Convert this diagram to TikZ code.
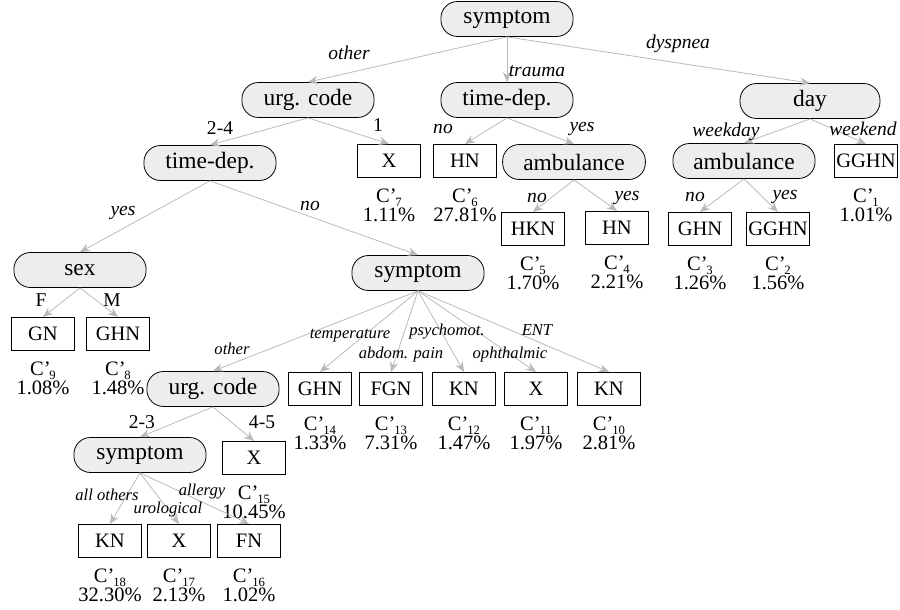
\documentclass[tikz,border=0pt]{standalone}
\usepackage{fontspec}
\setmainfont{Liberation Serif}
\usetikzlibrary{positioning,arrows.meta}
\definecolor{dtEdge}{RGB}{185,185,185}
\definecolor{dtFill}{RGB}{237,237,237}
\newcommand{\cname}[1]{C'\kern-0.6pt\smash{\raisebox{-1.7pt}{\fontsize{6.5}{7}\selectfont #1}}}

\begin{document}
\begin{tikzpicture}[x=0.018cm, y=-0.018cm,
  test/.style={draw, fill=dtFill, rounded corners=8.5pt, minimum width=2.38cm, minimum height=0.63cm, inner sep=2pt, font=\fontsize{12}{14}\selectfont},
  leaf/.style={draw, minimum width=1.13cm, minimum height=0.6cm, inner xsep=1pt, font=\fontsize{10.5}{12}\selectfont},
  info/.style={align=center, inner sep=0pt, font=\fontsize{10.5}{9.6}\selectfont},
  edge/.style={draw=dtEdge, -{Stealth[length=1.8mm,width=1.5mm]}},
  lbl/.style={inner sep=1pt, font=\fontsize{10}{12}\selectfont\itshape},
  slbl/.style={inner sep=1pt, font=\fontsize{8.5}{10}\selectfont\itshape},
  val/.style={inner sep=1pt, font=\fontsize{10}{12}\selectfont}]
  \useasboundingbox (0,0) rectangle (900,610);

  % Root
  \node[test] (root) at (507,19) {symptom};

  % Level 1
  \node[test] (uc1) at (308,100) {urg. code};
  \node[test] (td1) at (507,100) {time-dep.};
  \node[test, minimum width=2.52cm] (day) at (810,101) {day};

  % Level 2
  \node[test] (td2) at (210,163) {time-dep.};
  \node[leaf] (x7) at (389,161) {X};
  \node[leaf] (hn6) at (465,161) {HN};
  \node[test, minimum width=2.57cm] (amb1) at (574,162) {ambulance};
  \node[test, minimum width=2.56cm] (amb2) at (744,161) {ambulance};
  \node[leaf] (gghn1) at (866,161) {GGHN};

  % Level 3
  \node[leaf] (hkn5) at (533,229) {HKN};
  \node[leaf] (hn4) at (617,228) {HN};
  \node[leaf] (ghn3) at (700,229) {GHN};
  \node[leaf] (gghn2) at (778,229) {GGHN};
  \node[test] (sex) at (80,270) {sex};
  \node[test] (sym2) at (418,273) {symptom};

  % Level 4
  \node[leaf] (gn9) at (43,334) {GN};
  \node[leaf] (ghn8) at (118,334) {GHN};
  \node[test] (uc2) at (213,389) {urg. code};
  \node[leaf] (ghn14) at (320,389) {GHN};
  \node[leaf] (fgn13) at (391,389) {FGN};
  \node[leaf] (kn12) at (464,389) {KN};
  \node[leaf] (x11) at (536,389) {X};
  \node[leaf] (kn10) at (609,389) {KN};

  % Level 5
  \node[test] (sym3) at (140,455) {symptom};
  \node[leaf] (x15) at (254,458) {X};
  \node[leaf] (kn18) at (110,541) {KN};
  \node[leaf] (x17) at (179,541) {X};
  \node[leaf] (fn16) at (249,541) {FN};

  % Leaf clusters and shares
  \node[info, below=5.5pt of gghn1] (i1) {\cname{1}\\1.01\%};
  \node[info, below=5.5pt of gghn2] (i2) {\cname{2}\\1.56\%};
  \node[info, below=5.5pt of ghn3] (i3) {\cname{3}\\1.26\%};
  \node[info, below=5.5pt of hn4] (i4) {\cname{4}\\2.21\%};
  \node[info, below=5.5pt of hkn5] (i5) {\cname{5}\\1.70\%};
  \node[info, below=5.5pt of hn6] (i6) {\cname{6}\\27.81\%};
  \node[info, below=5.5pt of x7] (i7) {\cname{7}\\1.11\%};
  \node[info, below=5.5pt of ghn8] (i8) {\cname{8}\\1.48\%};
  \node[info, below=5.5pt of gn9] (i9) {\cname{9}\\1.08\%};
  \node[info, below=5.5pt of kn10] (i10) {\cname{10}\\2.81\%};
  \node[info, below=5.5pt of x11] (i11) {\cname{11}\\1.97\%};
  \node[info, below=5.5pt of kn12] (i12) {\cname{12}\\1.47\%};
  \node[info, below=5.5pt of fgn13] (i13) {\cname{13}\\7.31\%};
  \node[info, below=5.5pt of ghn14] (i14) {\cname{14}\\1.33\%};
  \node[info, below=5.5pt of x15] (i15) {\cname{15}\\10.45\%};
  \node[info, below=5.5pt of fn16] (i16) {\cname{16}\\1.02\%};
  \node[info, below=5.5pt of x17] (i17) {\cname{17}\\2.13\%};
  \node[info, below=5.5pt of kn18] (i18) {\cname{18}\\32.30\%};

  % Edges
  \draw[edge] (root.south) -- (uc1.north);
  \draw[edge] (root.south) -- (td1.north);
  \draw[edge] (root.south) -- (day.north);
  \draw[edge] (uc1.south) -- (td2.north);
  \draw[edge] (uc1.south) -- (x7.north);
  \draw[edge] (td1.south) -- (hn6.north);
  \draw[edge] (td1.south) -- (amb1.north);
  \draw[edge] (amb1.south) -- (hkn5.north);
  \draw[edge] (amb1.south) -- (hn4.north);
  \draw[edge] (day.south) -- (amb2.north);
  \draw[edge] (day.south) -- (gghn1.north);
  \draw[edge] (amb2.south) -- (ghn3.north);
  \draw[edge] (amb2.south) -- (gghn2.north);
  \draw[edge] (td2.south) -- (sex.north);
  \draw[edge] (td2.south) -- (sym2.north);
  \draw[edge] (sex.south) -- (gn9.north);
  \draw[edge] (sex.south) -- (ghn8.north);
  \draw[edge] (sym2.south) -- (uc2.north);
  \draw[edge] (sym2.south) -- (ghn14.north);
  \draw[edge] (sym2.south) -- (fgn13.north);
  \draw[edge] (sym2.south) -- (kn12.north);
  \draw[edge] (sym2.south) -- (x11.north);
  \draw[edge] (sym2.south) -- (kn10.north);
  \draw[edge] (uc2.south) -- (sym3.north);
  \draw[edge] (uc2.south) -- (x15.north);
  \draw[edge] (sym3.south) -- (kn18.north);
  \draw[edge] (sym3.south) -- (x17.north);
  \draw[edge] (sym3.south) -- (fn16.north);

  % Edge labels
  \node[lbl] (lOther) at (349,53) {other};
  \node[lbl] (lTrauma) at (537,71) {trauma};
  \node[lbl] (lDysp) at (678,44) {dyspnea};
  \node[val] (l24) at (220,128) {2-4};
  \node[val] (l1) at (378,125) {1};
  \node[lbl] (lNo1) at (443,129) {no};
  \node[lbl] (lYes1) at (582,129) {yes};
  \node[lbl] (lWday) at (726,132) {weekday};
  \node[lbl] (lWend) at (863,129) {weekend};
  \node[lbl] (lNo2) at (537,198) {no};
  \node[lbl] (lYes2) at (627,198) {yes};
  \node[lbl] (lNo3) at (695,197) {no};
  \node[lbl] (lYes3) at (785,197) {yes};
  \node[lbl] (lYes4) at (123,213) {yes};
  \node[lbl] (lNo4) at (310,206) {no};
  \node[val] (lF) at (41,300) {F};
  \node[val] (lM) at (112,300) {M};
  \node[slbl] (lOther2) at (232,349) {other};
  \node[slbl] (lTemp) at (350,336) {temperature};
  \node[slbl] (lAbd) at (401,355) {abdom. pain};
  \node[slbl] (lPsy) at (447,332) {psychomot.};
  \node[slbl] (lOph) at (510,355) {ophthalmic};
  \node[slbl] (lEnt) at (537,330) {ENT};
  \node[val] (l23) at (142,422) {2-3};
  \node[val] (l45) at (262,422) {4-5};
  \node[slbl] (lAll) at (107,495) {all others};
  \node[slbl] (lUro) at (168,510) {urological};
  \node[slbl] (lAll2) at (202,492) {allergy};
\end{tikzpicture}
\end{document}
